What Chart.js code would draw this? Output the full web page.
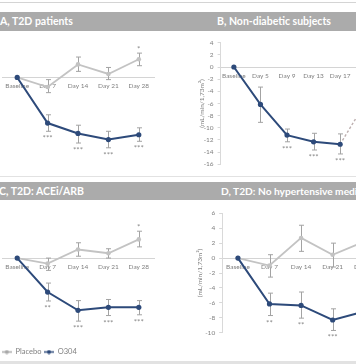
<!DOCTYPE html>
<html><head><meta charset="utf-8">
<script src="https://cdn.jsdelivr.net/npm/chart.js@4.4.1/dist/chart.umd.min.js"></script>
<style>
html,body{margin:0;padding:0;background:#fff;}
body{width:356px;height:364px;overflow:hidden;position:relative;font-family:Lato,'Open Sans',sans-serif;}
.bar{position:absolute;left:0;width:356px;background:#ababab;overflow:hidden;}
.ttl{position:absolute;top:0;color:#fff;font-weight:bold;font-size:10.5px;white-space:nowrap;}
.rule{position:absolute;left:0;width:356px;}
canvas{position:absolute;}
</style></head>
<body>
<div class="rule" style="top:2px;height:1px;background:#d4d4d4"></div>
<div class="bar" style="top:12px;height:19px;line-height:19px">
  <span class="ttl" style="left:0">A, T2D patients</span>
  <span class="ttl" style="left:217px">B, Non-diabetic subjects</span>
</div>
<div class="rule" style="top:176px;height:1px;background:#e2e2e2"></div>
<div class="bar" style="top:182px;height:18px;line-height:18px">
  <span class="ttl" style="left:-1px">C, T2D: ACEi/ARB</span>
  <span class="ttl" style="left:221px;font-size:10.2px">D, T2D: No hypertensive medication</span>
</div>
<div class="rule" style="top:361px;height:3px;background:#e2e2e2"></div>

<canvas id="cA" width="160" height="150" style="left:-2px;top:30px"></canvas>
<canvas id="cB" width="206" height="150" style="left:178px;top:30px"></canvas>
<canvas id="cC" width="160" height="165" style="left:-2px;top:201px"></canvas>
<canvas id="cD" width="206" height="150" style="left:178px;top:201px"></canvas>

<script>
// ---------- data ----------
const daysT2D = ['Baseline', 'Day 7', 'Day 14', 'Day 21', 'Day 28'];
const daysND  = ['Baseline', 'Day 5', 'Day 9', 'Day 13', 'Day 17', 'Day 24'];
const seriesNames = ['Placebo', 'O304'];
const yTitle = '(mL/min/1,73m²)';

// Panel A: T2D patients
const placeboA    = [0, -1.1, 1.5, 0.4, 2.1];
const placeboAErr = [[0, 0], [-1.75, -0.25], [0.7, 2.35], [-0.25, 1.15], [1.35, 2.8]];
const placeboASig = ['', '', '', '', '*'];
const o304A       = [0, -5.25, -6.45, -7.15, -6.6];
const o304AErr    = [[0, 0], [-6.2, -4.3], [-7.55, -5.5], [-8.1, -6.2], [-7.35, -5.8]];
const o304ASig    = ['', '***', '***', '***', '***'];

// Panel B: Non-diabetic subjects
const o304B       = [0, -6.15, -11.2, -12.3, -12.7, null];
const o304BErr    = [[0, 0], [-9.1, -3.3], [-12.3, -10.2], [-13.65, -10.9], [-14.3, -11.0], null];
const o304BSig    = ['', '', '***', '***', '***', ''];
const followB     = [null, null, null, null, -12.7, -5.5];
const ticksB      = [4, -16];

// Panel C: T2D ACEi/ARB
const placeboC    = [0, -0.75, 1.15, 0.65, 2.5];
const placeboCErr = [[0, 0], [-1.65, 0], [0.25, 2.05], [0, 1.25], [1.5, 3.6]];
const placeboCSig = ['', '', '', '', '*'];
const o304C       = [0, -4.55, -7.0, -6.6, -6.6];
const o304CErr    = [[0, 0], [-5.75, -3.35], [-8.45, -5.7], [-7.7, -5.55], [-7.6, -5.7]];
const o304CSig    = ['', '**', '***', '***', '***'];

// Panel D: T2D no hypertensive medication
const placeboD    = [0, -1.0, 2.7, 0.45, 2.2];
const placeboDErr = [[0, 0], [-2.55, 0.45], [0.9, 4.4], [-1.2, 2.0], [0.6, 3.8]];
const placeboDSig = ['', '', '', '', ''];
const o304D       = [0, -6.15, -6.35, -8.3, -7.15];
const o304DErr    = [[0, 0], [-7.7, -4.7], [-8.05, -4.55], [-9.7, -6.8], [-8.6, -5.7]];
const o304DSig    = ['', '**', '**', '***', '**'];
const ticksT2D    = [6, -10];
const ticksA      = [4, -10];

// ---------- styles ----------
const BLUE = '#2d4a7a', GREY = '#c3c3c3', ERR = '#a3a3a3', TXT = '#808080';
Chart.defaults.font.family = 'Lato, "Open Sans", sans-serif';
Chart.defaults.color = TXT;

function legendIcon(color) {
  const c = document.createElement('canvas');
  c.width = 10; c.height = 5;
  const g = c.getContext('2d');
  g.strokeStyle = color; g.lineWidth = 1.5;
  g.beginPath(); g.moveTo(0, 2.5); g.lineTo(10, 2.5); g.stroke();
  g.fillStyle = color; g.beginPath(); g.arc(5, 2.5, 2, 0, Math.PI * 2); g.fill();
  return c;
}

const errPlugin = {
  id: 'errbars',
  beforeDatasetsDraw(chart) {
    const {ctx, scales: {x, y}} = chart;
    chart.data.datasets.forEach(ds => {
      if (!ds.errors) return;
      ctx.save();
      ctx.strokeStyle = ERR; ctx.lineWidth = 1;
      ds.errors.forEach((e, i) => {
        if (!e || e[0] === e[1]) return;
        const px = Math.round(x.getPixelForValue(i)) + 0.5;
        const y1 = y.getPixelForValue(e[0]), y2 = y.getPixelForValue(e[1]);
        ctx.beginPath();
        ctx.moveTo(px, y1); ctx.lineTo(px, y2);
        ctx.moveTo(px - 2.5, y1); ctx.lineTo(px + 2.5, y1);
        ctx.moveTo(px - 2.5, y2); ctx.lineTo(px + 2.5, y2);
        ctx.stroke();
      });
      ctx.restore();
    });
  },
  afterDatasetsDraw(chart) {
    const {ctx, scales: {x, y}} = chart;
    ctx.save();
    ctx.font = '8px Lato, "Open Sans", sans-serif';
    ctx.fillStyle = '#8c8c8c';
    ctx.textAlign = 'center';
    ctx.textBaseline = 'alphabetic';
    chart.data.datasets.forEach(ds => {
      if (!ds.sig) return;
      ds.sig.forEach((s, i) => {
        if (!s) return;
        const e = ds.errors[i];
        const m = ctx.measureText(s);
        const mid = (m.actualBoundingBoxAscent - m.actualBoundingBoxDescent) / 2;
        const px = x.getPixelForValue(i);
        let cy;
        if (ds.sigSide === 'above') cy = y.getPixelForValue(Math.max(e[0], e[1])) - 5.5;
        else cy = y.getPixelForValue(Math.min(e[0], e[1])) + 5.5;
        ctx.fillText(s, px, cy + mid);
      });
    });
    ctx.restore();
  }
};

function placeboSet(data, errs, sig) {
  return {label: seriesNames[0], data, errors: errs, sig, sigSide: 'above',
    borderColor: GREY, backgroundColor: GREY, pointBackgroundColor: GREY, pointBorderColor: GREY,
    borderWidth: 1.8, pointRadius: 2.3, pointBorderWidth: 0, order: 2, clip: false,
    legendIcon: legendIcon('#a8a8a8')};
}
function o304Set(data, errs, sig) {
  return {label: seriesNames[1], data, errors: errs, sig, sigSide: 'below',
    borderColor: BLUE, backgroundColor: BLUE, pointBackgroundColor: BLUE, pointBorderColor: BLUE,
    borderWidth: 2, pointRadius: 2.6, pointBorderWidth: 0, order: 1, clip: false,
    legendIcon: legendIcon(BLUE)};
}

function makeChart(id, labels, datasets, o) {
  const yAxis = {
    min: o.yr[1], max: o.yr[0], display: o.showY,
    ticks: {stepSize: 2, color: TXT, font: {size: 6.5}, padding: 4},
    grid: {drawOnChartArea: false, drawTicks: true, tickLength: 3, color: '#d9d9d9'},
    border: {display: true, color: '#d9d9d9'},
    title: {display: true, text: yTitle, color: TXT, font: {size: 6.5}, padding: {top: o.yTitlePad || 0, bottom: 0}},
    afterFit(s) { s.width = o.yWidth || 0; }
  };
  return new Chart(document.getElementById(id), {
    type: 'line',
    data: {labels, datasets},
    plugins: [errPlugin],
    options: {
      responsive: false, maintainAspectRatio: false, animation: false, devicePixelRatio: 1,
      layout: {padding: o.pad},
      scales: {
        x: {
          type: 'category', offset: true, position: {y: 0},
          grid: {display: false, drawTicks: false},
          border: {display: true, color: '#d4d4d4', width: 1},
          ticks: {color: TXT, font: {size: 6.5}, padding: 5, autoSkip: false, maxRotation: 0, minRotation: 0},
          afterFit(s) { s.height = 0; }
        },
        y: yAxis
      },
      plugins: {
        tooltip: {enabled: false},
        legend: o.legend ? {
          display: true, position: 'bottom', align: 'start',
          title: {display: true, text: ' ', font: {size: 8}, padding: {top: 3.45, bottom: 0}},
          labels: {
            usePointStyle: true, pointStyleWidth: 10, padding: 2.5,
            font: {size: 7.5}, color: TXT,
            generateLabels(chart) {
              return chart.data.datasets.map((d, i) => ({
                text: d.label, pointStyle: d.legendIcon, fillStyle: d.borderColor,
                strokeStyle: d.borderColor, lineWidth: 0, hidden: false, datasetIndex: i, fontColor: TXT
              }));
            }
          }
        } : {display: false}
      }
    }
  });
}

makeChart('cA', daysT2D,
  [placeboSet(placeboA, placeboAErr, placeboASig), o304Set(o304A, o304AErr, o304ASig)],
  {yr: ticksA, showY: false, pad: {left: 1.3, right: 1.6, top: 12.7, bottom: 15.7}});

const follow = {label: 'Follow-up', data: followB, borderColor: '#bdafaf', borderDash: [2.5, 2],
  borderWidth: 1.4, pointRadius: 0, order: 3, clip: false};
makeChart('cB', daysND,
  [follow, o304Set(o304B, o304BErr, o304BSig)],
  {yr: ticksB, showY: true, yWidth: 42.6, yTitlePad: 19.8, pad: {left: 0, right: 2.6, top: 12.7, bottom: 15.7}});

makeChart('cC', daysT2D,
  [placeboSet(placeboC, placeboCErr, placeboCSig), o304Set(o304C, o304CErr, o304CSig)],
  {yr: ticksT2D, showY: false, legend: true, pad: {left: 1.3, right: 1.6, top: 12.3, bottom: 0.25}});

makeChart('cD', daysT2D,
  [placeboSet(placeboD, placeboDErr, placeboDSig), o304Set(o304D, o304DErr, o304DSig)],
  {yr: ticksT2D, showY: true, yWidth: 44.15, yTitlePad: 17.8, pad: {left: 0, right: 3.35, top: 12.3, bottom: 18.3}});
</script>
</body></html>
